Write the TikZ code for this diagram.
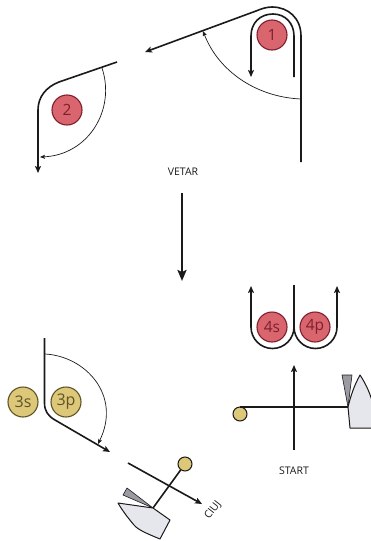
\documentclass[tikz,border=0pt]{standalone}
\usepackage{fontspec}
\setmainfont{Open Sans}
\usetikzlibrary{arrows.meta}
\definecolor{redfill}{HTML}{D9666F}
\definecolor{redline}{HTML}{7E1F2C}
\definecolor{yellowfill}{HTML}{DCC878}
\definecolor{yellowline}{HTML}{5E5428}
\definecolor{hullfill}{HTML}{E6E7EC}
\definecolor{sailfill}{HTML}{9A9BA3}
\definecolor{inkline}{HTML}{1A1A1A}
\tikzset{
  course/.style = {draw=inkline, line width=1.6pt, line join=round},
  tip/.style = {-{Stealth[length=7pt,width=6pt,inset=1.5pt]}},
  swing/.style = {draw=inkline, line width=0.7pt, -{Stealth[length=5pt,width=4pt,inset=1pt]}},
  redmark/.style = {shape=circle, draw=redline, line width=1.1pt, fill=redfill,
    minimum size=30pt, inner sep=0pt, text=redline, font=\fontsize{15.5}{15.5}\selectfont},
  yellowmark/.style = {shape=circle, draw=yellowline, line width=1.1pt, fill=yellowfill,
    minimum size=30pt, inner sep=0pt, text=yellowline, font=\fontsize{16}{16}\selectfont},
  buoy/.style = {shape=circle, draw=inkline, line width=1pt, fill=yellowfill,
    minimum size=14pt, inner sep=0pt},
  hull/.style = {draw=inkline, line width=1pt, fill=hullfill, line join=round},
  sail/.style = {draw=inkline, line width=0.6pt, fill=sailfill, line join=round},
  caption/.style = {text=inkline, font=\fontsize{10.5}{10.5}\selectfont}
}
\begin{document}
\begin{tikzpicture}[x=1pt, y=-1pt]
  \useasboundingbox (0,0) rectangle (371,541);
  \node[redmark] (mark1) at (272,35) {1};
  \node[redmark] (mark2) at (67,110) {2};
  \node[yellowmark] (mark3s) at (23,402) {3s};
  \node[yellowmark] (mark3p) at (66,402) {3p};
  \node[redmark] (mark4s) at (272,327) {4s};
  \node[redmark] (mark4p) at (315,327) {4p};
  \node[caption] (vetar) at (183,172) {VETAR};
  \node[caption] (start) at (294,471) {START};
  \node[caption, rotate=52] (ciuj) at (213,510) {CIUJ};

  \coordinate (a1) at (301,162);
  \coordinate (a2) at (145,52);
  \coordinate (a3) at (294,77);
  \coordinate (a4) at (251,77);
  \coordinate (a5) at (301,99);
  \coordinate (a6) at (203,31);
  \draw[course, tip] (a1) -- (301,36) .. controls (301,18) and (288,7) .. (272,7)
    .. controls (266,7) and (261,9) .. (256,11) -- (a2);
  \draw[course, tip] (a3) -- (294,36) .. controls (294,23) and (285,14) .. (273,14)
    .. controls (260,14) and (251,23) .. (251,36) -- (a4);
  \draw[swing] (a5) .. controls (255,97) and (218,70) .. (a6);

  \coordinate (b1) at (117,62);
  \coordinate (b2) at (38,173);
  \coordinate (b3) at (102,68);
  \coordinate (b4) at (40,157);
  \draw[course, tip] (b1) -- (59,82) .. controls (46,87) and (38,97) .. (38,110) -- (b2);
  \draw[swing] (b3) .. controls (116,110) and (88,155) .. (b4);

  \coordinate (g1) at (182,193);
  \coordinate (g2) at (182,281);
  \draw[draw=inkline, line width=2.6pt, -{Stealth[length=11pt,width=9pt,inset=2pt]}] (g1) -- (g2);

  \coordinate (c1) at (44.5,338);
  \coordinate (c2) at (110,452);
  \coordinate (c3) at (45,354);
  \coordinate (c4) at (98,444);
  \draw[course, tip] (c1) -- (44.5,403) .. controls (44.5,411) and (48,416) .. (55,420) -- (c2);
  \draw[swing] (c3) .. controls (85,356) and (122,395) .. (c4);

  \coordinate (d1) at (294,285);
  \coordinate (d2) at (251,286);
  \coordinate (d3) at (337,286);
  \draw[course, tip] (294,327) arc[start angle=0, end angle=180, radius=21.5] -- (d2);
  \draw[course, tip] (294,327) arc[start angle=180, end angle=0, radius=21.5] -- (d3);
  \draw[course] (d1) -- (294,327);

  \node[buoy] (buoy1) at (240,414) {};
  \coordinate (e1) at (294,450);
  \coordinate (e2) at (294,365);
  \coordinate (e3) at (348,407);
  \coordinate (e4) at (240,407);
  \draw[sail] (342,375) -- (352,375) -- (e3) -- cycle;
  \draw[hull] (e3) .. controls (351,395) and (354,386) .. (360,375)
    .. controls (366,384) and (371,395) .. (373,405) -- (373,428) -- (350,428) -- cycle;
  \draw[course, tip] (e1) -- (e2);
  \draw[course] (e4) -- (e3);

  \node[buoy] (buoy2) at (185,464) {};
  \coordinate (f1) at (128,463);
  \coordinate (f2) at (202,504);
  \coordinate (f3) at (153,508);
  \draw[sail] (123,495) -- (127,488) -- (f3) -- cycle;
  \draw[hull] (118,503) -- (f3) -- (170,520) -- (160,539)
    .. controls (148,534) and (138,530) .. (134,525) .. controls (128,518) and (122,510) .. (118,503) -- cycle;
  \draw[course, tip] (f1) -- (f2);
  \draw[course] (f3) -- (buoy2);
\end{tikzpicture}
\end{document}
